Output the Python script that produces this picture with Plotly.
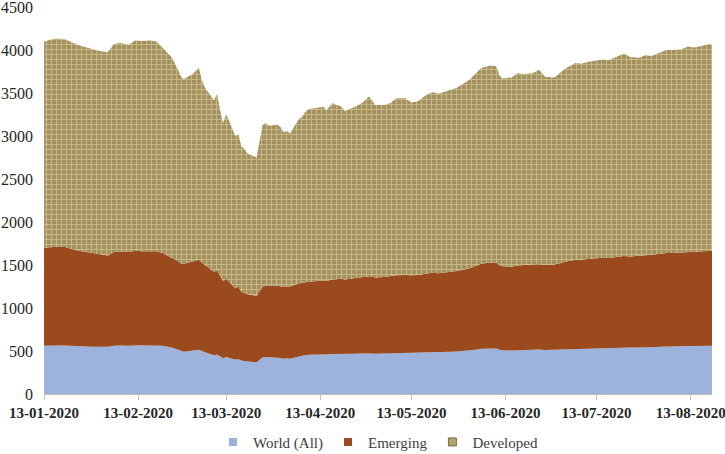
import plotly.graph_objects as go

dates = [
    "2020-01-13", "2020-01-15", "2020-01-17", "2020-01-20", "2020-01-22", "2020-01-24",
    "2020-01-27", "2020-01-29", "2020-01-31", "2020-02-03", "2020-02-05", "2020-02-07",
    "2020-02-10", "2020-02-12", "2020-02-14", "2020-02-17", "2020-02-19", "2020-02-21",
    "2020-02-24", "2020-02-26", "2020-02-27", "2020-02-28", "2020-03-02", "2020-03-03",
    "2020-03-04", "2020-03-05", "2020-03-06", "2020-03-09", "2020-03-10", "2020-03-11",
    "2020-03-12", "2020-03-13", "2020-03-16", "2020-03-17", "2020-03-18", "2020-03-19",
    "2020-03-20", "2020-03-23", "2020-03-24", "2020-03-25", "2020-03-26", "2020-03-27",
    "2020-03-30", "2020-03-31", "2020-04-01", "2020-04-02", "2020-04-03", "2020-04-06",
    "2020-04-07", "2020-04-08", "2020-04-09", "2020-04-14", "2020-04-15", "2020-04-17",
    "2020-04-20", "2020-04-21", "2020-04-23", "2020-04-24", "2020-04-27", "2020-04-29",
    "2020-04-30", "2020-05-01", "2020-05-04", "2020-05-06", "2020-05-08", "2020-05-11",
    "2020-05-13", "2020-05-15", "2020-05-18", "2020-05-20", "2020-05-22", "2020-05-26",
    "2020-05-28", "2020-06-01", "2020-06-03", "2020-06-05", "2020-06-08", "2020-06-10",
    "2020-06-11", "2020-06-12", "2020-06-15", "2020-06-17", "2020-06-19", "2020-06-22",
    "2020-06-24", "2020-06-26", "2020-06-29", "2020-07-01", "2020-07-03", "2020-07-06",
    "2020-07-08", "2020-07-10", "2020-07-13", "2020-07-15", "2020-07-17", "2020-07-20",
    "2020-07-22", "2020-07-24", "2020-07-27", "2020-07-29", "2020-07-31", "2020-08-03",
    "2020-08-05", "2020-08-07", "2020-08-10", "2020-08-12", "2020-08-14", "2020-08-17",
    "2020-08-19", "2020-08-20",
]

world = [
    560, 565, 565, 565, 560, 558, 555, 550, 550, 548, 560, 565,
    560, 568, 568, 565, 565, 560, 540, 520, 505, 490, 505, 510,
    515, 500, 485, 450, 460, 440, 415, 430, 400, 405, 390, 385,
    378, 370, 395, 425, 430, 428, 425, 420, 410, 415, 410, 440,
    445, 450, 455, 460, 458, 465, 465, 460, 465, 468, 470, 475,
    472, 468, 470, 475, 480, 480, 478, 478, 485, 488, 485, 492,
    495, 505, 515, 525, 530, 528, 515, 510, 505, 512, 512, 515,
    518, 512, 515, 520, 525, 530, 530, 532, 535, 537, 535, 540,
    542, 540, 540, 545, 545, 548, 552, 552, 555, 558, 558, 560,
    562, 562,
]

emerging = [
    1140, 1140, 1147, 1145, 1130, 1112, 1095, 1090, 1080, 1062, 1090, 1090,
    1090, 1097, 1092, 1100, 1095, 1080, 1050, 1030, 1015, 1025, 1035, 1040,
    1045, 1030, 1015, 970, 980, 940, 895, 910, 830, 845, 800, 790,
    782, 770, 795, 825, 830, 827, 835, 835, 835, 835, 840, 845,
    845, 850, 850, 860, 857, 865, 875, 870, 875, 877, 885, 895,
    893, 887, 890, 895, 900, 905, 902, 907, 915, 922, 920, 928,
    935, 955, 975, 990, 1000, 997, 985, 975, 975, 983, 988, 990,
    992, 988, 990, 1000, 1015, 1030, 1030, 1038, 1045, 1048, 1045, 1055,
    1063, 1060, 1065, 1070, 1075, 1082, 1088, 1088, 1090, 1097, 1097, 1100,
    1103, 1103,
]

developed = [
    2395, 2415, 2423, 2415, 2400, 2390, 2380, 2370, 2360, 2365, 2420, 2425,
    2410, 2445, 2445, 2445, 2440, 2390, 2330, 2230, 2180, 2145, 2180, 2210,
    2230, 2120, 2060, 2000, 2050, 1920, 1840, 1920, 1770, 1770, 1690, 1675,
    1640, 1610, 1760, 1880, 1890, 1865, 1870, 1845, 1795, 1810, 1780, 1915,
    1930, 1980, 2005, 2020, 1985, 2050, 2000, 1960, 1980, 1985, 2035, 2090,
    2055, 2005, 2000, 2010, 2060, 2055, 2010, 2015, 2080, 2100, 2085, 2120,
    2130, 2190, 2230, 2275, 2290, 2285, 2200, 2185, 2200, 2235, 2220, 2225,
    2260, 2190, 2175, 2220, 2250, 2290, 2280, 2290, 2300, 2305, 2300, 2335,
    2355, 2320, 2305, 2325, 2310, 2340, 2360, 2360, 2365, 2385, 2375, 2390,
    2405, 2395,
]

series_names = ["World (All)", "Emerging", "Developed"]
series_colors = ["#9db3dc", "#9b4a1e", "#b3a26e"]

tick_vals = ["2020-01-13", "2020-02-13", "2020-03-13", "2020-04-13",
             "2020-05-13", "2020-06-13", "2020-07-13", "2020-08-13"]
tick_text = ["13-01-2020", "13-02-2020", "13-03-2020", "13-04-2020",
             "13-05-2020", "13-06-2020", "13-07-2020", "13-08-2020"]
y_ticks = [0, 500, 1000, 1500, 2000, 2500, 3000, 3500, 4000, 4500]

SERIF = "Liberation Serif, Times New Roman, serif"

fig = go.Figure()
fig.add_trace(go.Scatter(
    x=dates, y=world, name=series_names[0], mode="lines", stackgroup="one",
    line=dict(width=0, color=series_colors[0]), fillcolor=series_colors[0],
    showlegend=False, hoverinfo="skip",
))
fig.add_trace(go.Scatter(
    x=dates, y=emerging, name=series_names[1], mode="lines", stackgroup="one",
    line=dict(width=0, color=series_colors[1]), fillcolor=series_colors[1],
    showlegend=False, hoverinfo="skip",
))
fig.add_trace(go.Scatter(
    x=dates, y=developed, name=series_names[2], mode="lines", stackgroup="one",
    line=dict(width=0, color="#a89766"), fillcolor="#a89766",
    fillpattern=dict(shape="+", bgcolor="#a39160", fgcolor="#ebdfac",
                     size=5, solidity=0.38),
    showlegend=False, hoverinfo="skip",
))
# legend entries with small square swatches
for name, color in zip(series_names, series_colors):
    fig.add_trace(go.Scatter(
        x=[None], y=[None], name=name, mode="markers",
        marker=dict(symbol="square", size=8, color=color,
                    line=dict(width=1, color="#7a6a3a") if name == "Developed" else dict(width=0)),
        showlegend=True,
    ))

fig.update_layout(
    width=725, height=454,
    margin=dict(l=44, r=13, t=7, b=60),
    paper_bgcolor="white", plot_bgcolor="white",
    font=dict(family=SERIF, size=16, color="#262626"),
    showlegend=True,
    legend=dict(orientation="h", x=0.5, xanchor="center",
                yref="container", y=0.026, yanchor="middle",
                traceorder="normal",
                font=dict(family=SERIF, size=15, color="#404040"),
                itemwidth=30, tracegroupgap=0),
    xaxis=dict(
        type="date", range=["2020-01-13", "2020-08-20"],
        tickmode="array", tickvals=tick_vals, ticktext=tick_text,
        tickfont=dict(family=SERIF, size=15, color="#262626", weight="bold"),
        showgrid=False, showline=True, linecolor="#bfbfbf", linewidth=1,
        ticks="outside", ticklen=5, tickcolor="#bfbfbf", zeroline=False,
        automargin=False, ticklabeloverflow="allow",
    ),
    yaxis=dict(
        range=[0, 4500], tickmode="array", tickvals=y_ticks,
        tickfont=dict(family=SERIF, size=16, color="#262626"),
        showgrid=False, showline=False, zeroline=False, ticks="",
        ticklabelstandoff=10, automargin=False, ticklabeloverflow="allow",
    ),
)

fig.write_html("out.html",
               config={"displayModeBar": False},
               post_script="document.body.style.margin='0';document.body.style.overflow='hidden';")
